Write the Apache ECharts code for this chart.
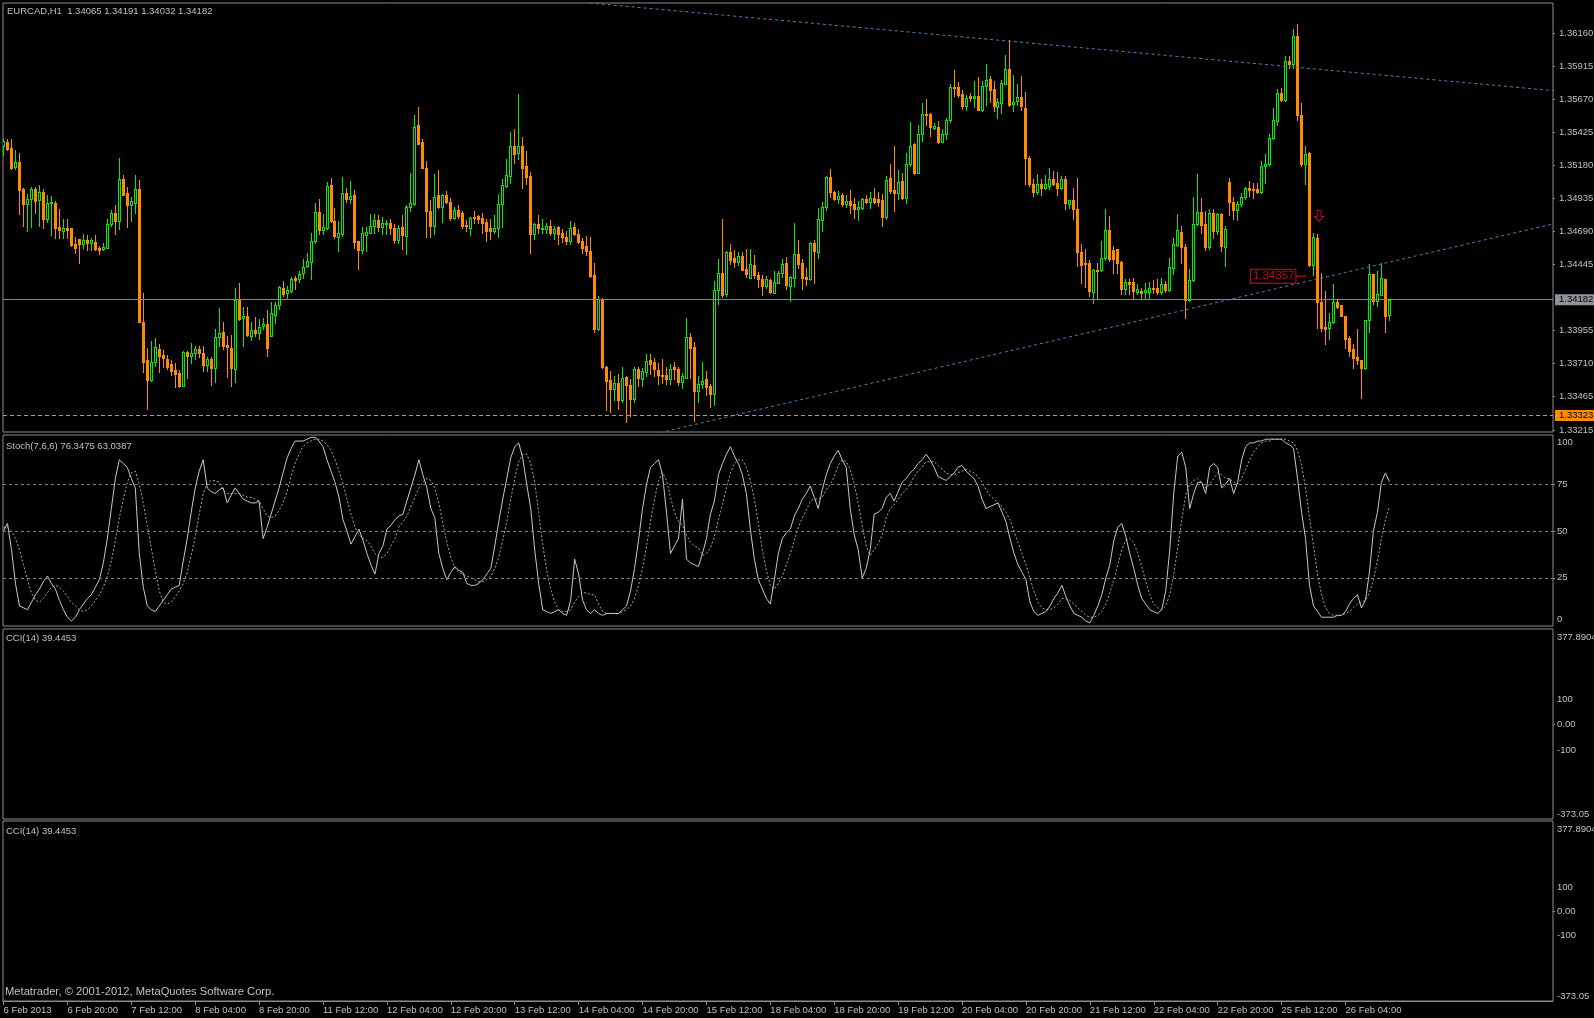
<!DOCTYPE html>
<html><head><meta charset="utf-8">
<script src="https://cdn.jsdelivr.net/npm/echarts@6/dist/echarts.min.js"></script>
<style>html,body{margin:0;padding:0;background:#000;}#c{width:1594px;height:1018px;}</style>
</head><body><div id="c"></div>
<script>
// Prices stored as points: price = 1.30000 + pts / 100000
const openPts = [5322,5355,5305,5167,5206,5001,4890,4932,5001,4922,4984,4783,4897,4902,4724,4692,4717,4712,4593,4630,4598,4623,4603,4613,4566,4558,4568,4741,4823,4766,5075,4971,4885,4902,5001,4014,3732,3586,3720,3819,3774,3745,3703,3658,3636,3542,3796,3764,3789,3819,3784,3698,3745,3675,3908,3945,3846,3826,3670,4177,4049,4064,3913,3960,3937,3987,4004,3913,4071,4140,4271,4232,4247,4341,4333,4383,4432,4464,4618,4835,4699,4712,5031,4766,4650,4667,4971,4932,4956,4620,4551,4660,4679,4726,4771,4724,4741,4754,4712,4628,4719,4655,4872,4890,5476,5352,5162,4840,4729,4956,4870,4961,4907,4788,4845,4823,4736,4714,4796,4803,4786,4759,4712,4692,4714,4895,5026,5100,5325,5273,5325,5172,5097,4670,4741,4707,4709,4726,4675,4719,4677,4650,4618,4719,4670,4618,4583,4546,4363,3962,4185,3685,3589,3517,3562,3438,3606,3552,3448,3670,3596,3648,3732,3720,3661,3626,3621,3591,3680,3670,3572,3601,3908,3831,3505,3559,3591,3539,3485,4254,4383,4222,4536,4491,4464,4509,4407,4346,4437,4363,4338,4284,4328,4234,4309,4383,4457,4284,4346,4524,4452,4351,4333,4600,4538,4773,4872,5090,4984,4927,4961,4890,4917,4890,4853,4865,4927,4907,4934,4927,4922,4796,5083,4994,4976,5063,4939,5191,5335,5125,5416,5562,5564,5458,5468,5354,5409,5515,5765,5760,5713,5619,5698,5681,5698,5589,5772,5824,5743,5614,5644,5785,5898,5636,5656,5688,5607,5236,5038,4981,5043,5013,5030,5075,5045,5013,5075,4894,4919,4852,4533,4457,4452,4239,4402,4402,4489,4696,4553,4556,4459,4259,4311,4311,4239,4246,4239,4239,4271,4271,4239,4296,4251,4420,4588,4687,4575,4180,4328,4741,4835,4741,4573,4828,4692,4820,4575,5058,4909,4847,4894,4946,5013,5006,5001,4981,5174,5186,5384,5508,5718,5668,5958,5935,6138,5557,5186,5273,4439,4642,4167,3979,3974,4019,4167,4140,4059,3895,3814,3757,3737,3673,4029,4375,4172,4217,4333,4065];
const highPts = [5372,5372,5372,5290,5273,5013,4969,5021,5021,5036,5001,4959,4954,4912,4852,4783,4778,4712,4650,4630,4672,4660,4640,4660,4581,4605,4783,4848,4882,5236,5110,5016,4942,5110,5068,4234,3826,3876,3895,3856,3806,3774,3735,3710,3661,3801,3801,3863,3839,3839,3839,3757,3757,3962,4123,4019,3913,3920,4271,4308,4130,4130,4019,4056,4041,4049,4103,4165,4165,4282,4318,4284,4350,4358,4395,4487,4531,4674,4902,4932,4815,5058,5083,4860,4768,5095,5013,5060,4994,4620,4719,4721,4815,4820,4808,4798,4773,4778,4746,4736,4808,4882,5125,5550,5614,5377,5211,4919,5112,5142,4969,4986,4939,4870,4887,4843,4771,4796,4838,4808,4825,4783,4778,4808,4964,5075,5224,5424,5446,5706,5387,5283,5132,4751,4808,4778,4754,4773,4729,4731,4704,4689,4766,4754,4709,4637,4657,4647,4452,4210,4197,3690,3653,3616,3628,3685,3616,3591,3683,3683,3673,3777,3782,3752,3715,3740,3685,3703,3722,3685,3641,4049,3938,3866,3616,3720,3656,3554,4321,4482,4778,4546,4593,4551,4536,4534,4556,4556,4511,4388,4363,4358,4338,4393,4393,4482,4501,4358,4749,4623,4482,4420,4613,4623,4865,4907,5100,5149,4991,4986,4976,4956,4996,4939,4914,4934,4961,4981,5013,4981,4966,5100,5191,5327,5144,5125,5268,5505,5347,5481,5639,5669,5569,5495,5508,5446,5532,5780,5891,5797,5738,5705,5718,5804,5834,5809,5933,5841,5809,5681,5817,6002,6114,5849,5785,5841,5725,5248,5075,5112,5082,5105,5161,5137,5132,5100,5100,4926,5013,5087,4593,4556,4474,4407,4457,4617,4852,4803,4580,4560,4469,4333,4333,4340,4301,4271,4308,4316,4328,4338,4345,4321,4494,4642,4815,4729,4593,4407,4944,5117,4939,4840,4857,4852,4825,4825,4729,5087,4944,4914,4976,5020,5063,5050,5050,5211,5265,5409,5607,5743,5755,5990,5990,6195,6232,5644,5322,5278,4679,4667,4382,4246,4086,4296,4185,4140,4059,3913,3851,3962,3737,4029,4444,4375,4395,4457,4333,4191];
const lowPts = [5253,5290,5154,5149,4815,4729,4692,4721,4823,4729,4714,4759,4665,4640,4640,4640,4640,4581,4531,4457,4563,4551,4551,4551,4521,4551,4563,4729,4672,4709,4956,4721,4766,4828,4017,3646,3374,3580,3690,3648,3680,3670,3621,3537,3534,3540,3601,3715,3740,3759,3653,3651,3552,3572,3839,3816,3609,3542,3572,4032,3839,3913,3883,3913,3891,3962,3764,3910,4012,4111,4210,4185,4242,4259,4316,4341,4425,4333,4605,4667,4672,4709,4759,4640,4541,4655,4907,4897,4568,4407,4526,4543,4674,4674,4692,4667,4667,4667,4605,4600,4561,4524,4840,4885,5335,5158,4647,4647,4672,4865,4759,4902,4771,4783,4791,4712,4692,4662,4754,4749,4679,4615,4635,4675,4650,4722,5020,5050,5194,5224,5011,5038,4529,4630,4675,4675,4675,4662,4630,4593,4613,4593,4593,4665,4605,4531,4516,4348,3943,3955,3678,3364,3352,3438,3369,3423,3275,3319,3423,3542,3542,3616,3628,3616,3554,3567,3559,3554,3596,3552,3530,3599,3604,3282,3423,3530,3473,3384,3403,4153,4205,4210,4445,4427,4442,4402,4353,4341,4346,4279,4220,4266,4234,4229,4304,4353,4259,4173,4284,4420,4264,4289,4328,4309,4489,4692,4848,4944,4922,4902,4877,4870,4828,4786,4773,4853,4897,4862,4902,4877,4729,4778,4976,4840,4927,4932,4902,5174,5115,5120,5360,5478,5396,5446,5347,5352,5379,5503,5693,5686,5599,5589,5656,5614,5587,5582,5631,5651,5582,5532,5569,5780,5619,5582,5631,5594,5038,5025,4951,4964,4956,5001,5001,5033,4959,5006,4857,4865,4783,4432,4308,4276,4209,4160,4185,4395,4474,4469,4382,4382,4222,4222,4222,4185,4222,4185,4185,4185,4234,4222,4227,4239,4246,4370,4578,4457,4049,4175,4320,4736,4679,4548,4561,4642,4667,4543,4432,4808,4783,4771,4877,4927,4951,4939,4976,4976,5050,5180,5379,5478,5661,5661,5903,5903,5520,5174,5043,4432,4365,3974,3950,3851,3888,4012,4123,4059,3826,3764,3673,3702,3450,3665,3945,4148,4135,4217,3945,4032];
const closePts = [5360,5298,5162,5206,4996,4890,4932,5001,4914,4984,4783,4902,4904,4714,4699,4717,4699,4588,4568,4598,4623,4600,4623,4558,4551,4573,4741,4823,4766,5080,4959,4885,4912,5001,4017,3720,3586,3722,3829,3764,3747,3685,3653,3631,3542,3796,3764,3789,3819,3784,3698,3745,3675,3908,3937,3836,3831,3673,4177,4041,4064,3918,3957,3935,3982,4004,3824,4086,4145,4279,4222,4252,4333,4328,4375,4427,4469,4618,4835,4699,4719,5026,4766,4655,4674,4971,4927,4949,4610,4551,4674,4687,4726,4771,4724,4749,4754,4712,4623,4717,4662,4872,4902,5466,5340,5162,4840,4729,4942,4870,4961,4907,4788,4845,4803,4729,4729,4791,4786,4778,4754,4692,4692,4717,4895,5031,5105,5325,5261,5320,5159,5092,4670,4741,4712,4712,4726,4675,4709,4670,4647,4618,4717,4670,4613,4566,4543,4355,3962,4185,3685,3579,3517,3562,3438,3604,3552,3448,3670,3604,3651,3727,3708,3666,3623,3613,3591,3670,3666,3572,3614,3908,3826,3505,3559,3581,3532,3485,4257,4383,4217,4536,4477,4464,4509,4405,4370,4449,4363,4338,4284,4333,4239,4314,4383,4449,4289,4353,4524,4445,4346,4338,4600,4543,4783,4872,5090,4981,4927,4949,4890,4917,4885,4853,4872,4927,4907,4934,4905,4909,4796,5073,4989,4976,5058,4939,5191,5327,5120,5416,5562,5550,5463,5471,5352,5409,5518,5765,5757,5705,5619,5683,5681,5698,5589,5772,5814,5738,5619,5651,5792,5896,5631,5651,5688,5619,5231,5038,4981,5043,5013,5038,5075,5043,5013,5075,4899,4919,4852,4536,4439,4444,4246,4402,4395,4489,4696,4486,4481,4457,4259,4311,4301,4246,4259,4234,4251,4271,4266,4239,4296,4251,4427,4593,4696,4573,4180,4330,4746,4835,4736,4573,4828,4692,4820,4578,4709,4907,4847,4894,4946,5013,4996,4993,4981,5174,5186,5384,5513,5718,5668,5958,5935,6138,5552,5186,5265,4439,4647,4167,3974,3967,4019,4167,4130,4059,3888,3801,3747,3734,3673,4029,4375,4172,4222,4340,4061,4182];
const stochMain = [50,54,40,22,10,9,8,12,16,19,23,26,22,19,13,8,4,2,4,8,11,14,16,20,24,33,46,62,78,88,86,84,78,73,38,20,10,8,7,10,13,16,19,20,21,34,46,60,73,82,88,73,71,70,72,73,65,69,73,70,67,66,65,65,66,46,52,59,66,73,81,89,94,98,98,98,99,100,100,98,95,88,82,76,68,56,50,43,47,51,45,38,32,27,38,42,51,53,56,58,59,66,73,80,88,80,73,62,57,38,30,24,28,31,29,28,22,21,21,22,24,27,30,42,55,67,78,89,95,97,89,75,62,40,22,8,7,6,7,8,6,5,13,35,27,13,8,6,8,6,5,6,6,6,6,8,10,18,30,45,62,75,84,86,88,80,60,38,42,46,67,35,33,32,31,38,46,59,66,80,86,91,95,90,86,80,70,51,35,24,19,14,11,24,38,46,49,51,58,62,67,70,74,68,62,72,80,86,90,93,88,84,62,48,40,25,30,40,59,60,62,68,70,66,71,76,78,81,83,86,88,91,88,84,79,78,77,79,81,84,85,82,80,78,74,67,62,63,64,65,60,55,46,38,32,28,24,12,7,5,6,7,10,14,17,21,15,10,6,5,4,2,1,5,10,16,25,32,45,52,54,47,38,30,21,14,11,8,7,6,8,18,40,70,90,92,84,62,70,76,76,70,84,86,84,73,75,78,70,76,88,95,97,97,98,98,99,99,99,99,99,97,96,94,78,60,46,21,10,7,4,4,4,4,5,5,7,11,14,16,9,13,28,50,60,76,81,76.3475];
const stochSignal = [52,52,50,46,40,32,24,17,13,12,14,17,20,21,20,18,15,12,10,8,7,8,10,13,16,20,26,34,45,57,67,76,81,82,75,65,53,41,29,18,12,11,12,15,18,22,28,37,47,59,70,75,77,77,76,72,70,70,70,70,69,68,68,67,66,62,58,57,58,61,65,71,79,86,91,95,97,98,99,99,98,96,93,88,82,75,67,59,52,48,46,45,42,38,36,36,38,42,46,52,55,58,63,68,73,76,78,77,73,65,54,44,36,30,28,27,26,25,24,23,23,24,26,30,36,45,55,67,78,87,91,91,86,76,60,43,29,19,12,8,7,7,8,12,15,17,17,16,16,11,7,6,6,6,6,7,8,10,14,21,30,42,55,67,77,81,77,68,60,55,53,48,44,42,41,37,38,41,47,56,64,73,81,86,88,88,84,77,67,54,40,29,21,19,22,26,32,38,45,52,57,61,66,67,67,68,72,75,79,85,88,87,83,75,65,53,42,37,40,43,48,57,62,64,67,70,72,75,79,82,84,87,87,87,85,83,81,80,80,81,82,83,82,81,79,76,72,69,67,65,63,60,56,50,44,38,32,25,18,12,9,8,8,9,11,14,14,13,11,9,7,5,4,4,5,7,11,17,24,32,40,45,46,44,38,31,23,16,11,9,8,10,16,27,41,56,69,75,77,78,76,73,75,78,81,80,78,78,76,75,78,83,88,92,95,97,98,98,99,99,99,99,98,97,93,85,73,57,42,27,16,9,6,5,5,5,6,7,9,11,12,13,17,24,34,46,56,63.0387];
const timeLabels = ['6 Feb 2013','6 Feb 20:00','7 Feb 12:00','8 Feb 04:00','8 Feb 20:00','11 Feb 12:00','12 Feb 04:00','12 Feb 20:00','13 Feb 12:00','14 Feb 04:00','14 Feb 20:00','15 Feb 12:00','18 Feb 04:00','18 Feb 20:00','19 Feb 12:00','20 Feb 04:00','20 Feb 20:00','21 Feb 12:00','22 Feb 04:00','22 Feb 20:00','25 Feb 12:00','26 Feb 04:00'];
const barsPerLabel = 16;
const priceTicks = [1.33215,1.33465,1.33710,1.33955,1.34445,1.34690,1.34935,1.35180,1.35425,1.35670,1.35915,1.36160];
const stochTicks = [0,25,50,75,100];
const stochLevels = [25,50,75];
const cciTicks = [-373.05,-100,0,100,377.8904];
const cciTickText = ['-373.05','-100','0.00','100','377.8904'];
const bidPrice = 1.34182;
const levelPrice = 1.33323;
const upperTrend = [[146.8,1.36385],[390,1.35729]];
const lowerTrend = [[160,1.33165],[390,1.34759]];
const priceLabel = {bar: 326.1, price: 1.34357, len: 2.5};
const arrowMark = {bar: 329.4, price: 1.34804};
const headerText = 'EURCAD,H1  1.34065 1.34191 1.34032 1.34182';
const stochText = 'Stoch(7,6,6) 76.3475 63.0387';
const cciText = 'CCI(14) 39.4453';
const copyText = 'Metatrader, \u00a9 2001-2012, MetaQuotes Software Corp.';

const GREEN = '#00ee00', ORANGE = '#ff8c00', GRAY = '#8c8c8c', TXT = '#c0c0c0', RED = '#dc143c', BLUE = '#4682b4';
const FONT = 'Liberation Sans', FS = 9.5;
const toPrice = p => +(1.3 + p / 100000).toFixed(5);
const candles = openPts.map((o, i) => [i, toPrice(o), toPrice(highPts[i]), toPrice(lowPts[i]), toPrice(closePts[i])]);
const XMIN = -0.125, XMAX = 387.96;
const tickBars = timeLabels.map((_, k) => k * barsPerLabel);

function renderCandle(params, api) {
  const i = api.value(0), o = api.value(1), h = api.value(2), l = api.value(3), c = api.value(4);
  const cx = Math.floor(api.coord([i, o])[0]);
  const yO = api.coord([i, o])[1], yC = api.coord([i, c])[1];
  const yH = Math.round(api.coord([i, h])[1]), yL = Math.round(api.coord([i, l])[1]);
  const top = Math.round(Math.min(yO, yC)), bot = Math.round(Math.max(yO, yC));
  const bull = c > o;
  const col = bull ? GREEN : ORANGE;
  const bh = Math.max(1, bot - top);
  const ch = [];
  ch.push({type: 'rect', shape: {x: cx, y: yH, width: 1, height: Math.max(1, yL - yH + 1)}, style: {fill: col}});
  ch.push({type: 'rect', shape: {x: cx - 1, y: top, width: 3, height: bh + 1}, style: {fill: col}});
  if (bull && bh > 1) ch.push({type: 'rect', shape: {x: cx, y: top + 1, width: 1, height: bh - 1}, style: {fill: '#000'}});
  return {type: 'group', children: ch};
}

const gridBase = {left: 3, width: 1550, show: true, borderColor: GRAY, borderWidth: 1, backgroundColor: '#000',
  containLabel: false, outerBoundsMode: 'none'};
const grids = [
  Object.assign({top: 3, height: 429}, gridBase),
  Object.assign({top: 435, height: 191}, gridBase),
  Object.assign({top: 629, height: 190}, gridBase),
  Object.assign({top: 821, height: 180}, gridBase)
];
const xAxes = [0, 1, 2, 3].map(g => ({
  type: 'value', gridIndex: g, min: XMIN, max: XMAX, show: g === 3, position: 'bottom',
  splitLine: {show: false},
  axisLine: {show: true, onZero: false, lineStyle: {color: GRAY}},
  axisTick: {show: true, customValues: tickBars, length: 4, lineStyle: {color: GRAY}},
  axisLabel: {customValues: tickBars, formatter: v => timeLabels[Math.round(v / barsPerLabel)] || '',
    align: 'left', margin: 4, color: TXT, fontSize: FS, fontFamily: FONT}
}));
const labelStyle = m => ({color: TXT, fontSize: FS, fontFamily: FONT, margin: m});
const yAxes = [
  {type: 'value', gridIndex: 0, position: 'right', min: 1.33200, max: 1.36385, splitLine: {show: false},
    axisLine: {show: false, onZero: false}, axisTick: {show: true, customValues: priceTicks, length: 2, lineStyle: {color: GRAY}},
    axisLabel: Object.assign({customValues: priceTicks, formatter: v => v.toFixed(5)}, labelStyle(6))},
  {type: 'value', gridIndex: 1, position: 'right', min: -0.69, max: 101.23, splitLine: {show: false},
    axisLine: {show: false, onZero: false}, axisTick: {show: true, customValues: stochLevels, length: 2, lineStyle: {color: GRAY}},
    axisLabel: Object.assign({customValues: stochTicks, formatter: v => String(Math.round(v)),
      verticalAlignMinLabel: 'bottom', verticalAlignMaxLabel: 'top'}, labelStyle(4))},
  ...[2, 3].map(g => ({type: 'value', gridIndex: g, position: 'right', min: -373.05, max: 377.8904, splitLine: {show: false},
    axisLine: {show: false, onZero: false}, axisTick: {show: true, customValues: [0], length: 2, lineStyle: {color: GRAY}},
    axisLabel: Object.assign({customValues: cciTicks,
      formatter: v => {
        const k = cciTicks.findIndex(t => Math.abs(t - v) < 1e-6);
        if (k < 0) return '';
        return k === cciTicks.length - 1 ? '{t|' + cciTickText[k] + '}' : cciTickText[k];
      },
      rich: {t: {padding: [3, 0, 0, 0], color: TXT, fontSize: FS, fontFamily: FONT}},
      verticalAlignMinLabel: 'bottom', verticalAlignMaxLabel: 'top'}, labelStyle(4))}))
];

const hLineLabel = (txt, bg) => ({show: true, position: 'end', distance: 2, formatter: txt, backgroundColor: bg,
  color: '#000', padding: [1, 6, 0, 4], fontSize: FS, fontFamily: FONT});

const series = [
  {type: 'custom', name: 'EURCAD', xAxisIndex: 0, yAxisIndex: 0, renderItem: renderCandle, data: candles, clip: true,
    encode: {x: 0, y: [1, 2, 3, 4]}, z: 3},
  {type: 'line', xAxisIndex: 0, yAxisIndex: 0, data: upperTrend, symbol: 'none', silent: true, z: 4,
    lineStyle: {color: BLUE, width: 1, type: [3, 3]},
    markLine: {symbol: ['none', 'none'], silent: true, animation: false, precision: 5, data: [
      {yAxis: bidPrice, lineStyle: {color: '#778899', type: 'solid', width: 1}, label: hLineLabel(bidPrice.toFixed(5), '#8e939a')},
      {yAxis: levelPrice, lineStyle: {color: ORANGE, type: [4, 3], width: 1}, label: hLineLabel(levelPrice.toFixed(5), ORANGE)}
    ]}},
  {type: 'line', xAxisIndex: 0, yAxisIndex: 0, data: lowerTrend, symbol: 'none', silent: true, z: 4,
    lineStyle: {color: BLUE, width: 1, type: [3, 3]}},
  {type: 'line', xAxisIndex: 0, yAxisIndex: 0, symbol: 'none', silent: true, z: 5,
    data: [[priceLabel.bar - priceLabel.len, priceLabel.price], [priceLabel.bar, priceLabel.price]],
    lineStyle: {color: RED, width: 1}},
  {type: 'scatter', xAxisIndex: 0, yAxisIndex: 0, symbolSize: 1, silent: true, z: 6,
    data: [[priceLabel.bar - priceLabel.len, priceLabel.price]], itemStyle: {color: 'rgba(0,0,0,0)'},
    label: {show: true, position: 'left', distance: 0, formatter: priceLabel.price.toFixed(5), color: RED,
      borderColor: RED, borderWidth: 1, backgroundColor: '#000', padding: [1, 1, 0, 2], fontSize: 11.5, fontFamily: FONT}},
  {type: 'scatter', xAxisIndex: 0, yAxisIndex: 0, silent: true, z: 6, data: [[arrowMark.bar, arrowMark.price]],
    symbol: 'path://M3,0L7,0L7,6L10,6L5,11L0,6L3,6Z', symbolSize: [9, 11],
    itemStyle: {color: 'rgba(0,0,0,0)', borderColor: RED, borderWidth: 1}},
  {type: 'line', xAxisIndex: 1, yAxisIndex: 1, symbol: 'none', silent: true, z: 4,
    data: stochMain.map((v, i) => [i, v]), lineStyle: {color: '#c8c8c8', width: 1},
    markLine: {symbol: ['none', 'none'], silent: true, animation: false, label: {show: false},
      lineStyle: {color: '#808080', type: [3, 3], width: 1}, data: stochLevels.map(v => ({yAxis: v}))}},
  {type: 'line', xAxisIndex: 1, yAxisIndex: 1, symbol: 'none', silent: true, z: 3,
    data: stochSignal.map((v, i) => [i, v]), lineStyle: {color: '#a8a8a8', width: 1, type: [2, 2]}}
];

const txt = (text, x, y, fs) => ({type: 'text', x, y, silent: true,
  style: {text, fill: TXT, fontSize: fs || FS, fontFamily: FONT, verticalAlign: 'middle', align: 'left'}});

const chart = echarts.init(document.getElementById('c'), null, {renderer: 'canvas'});
chart.setOption({
  backgroundColor: '#000',
  animation: false,
  grid: grids,
  xAxis: xAxes,
  yAxis: yAxes,
  series,
  graphic: [
    txt(headerText, 7, 11),
    txt(stochText, 6, 446),
    txt(cciText, 6, 638),
    txt(cciText, 6, 831),
    txt(copyText, 5, 992, 11.2)
  ]
});
</script>
</body></html>
